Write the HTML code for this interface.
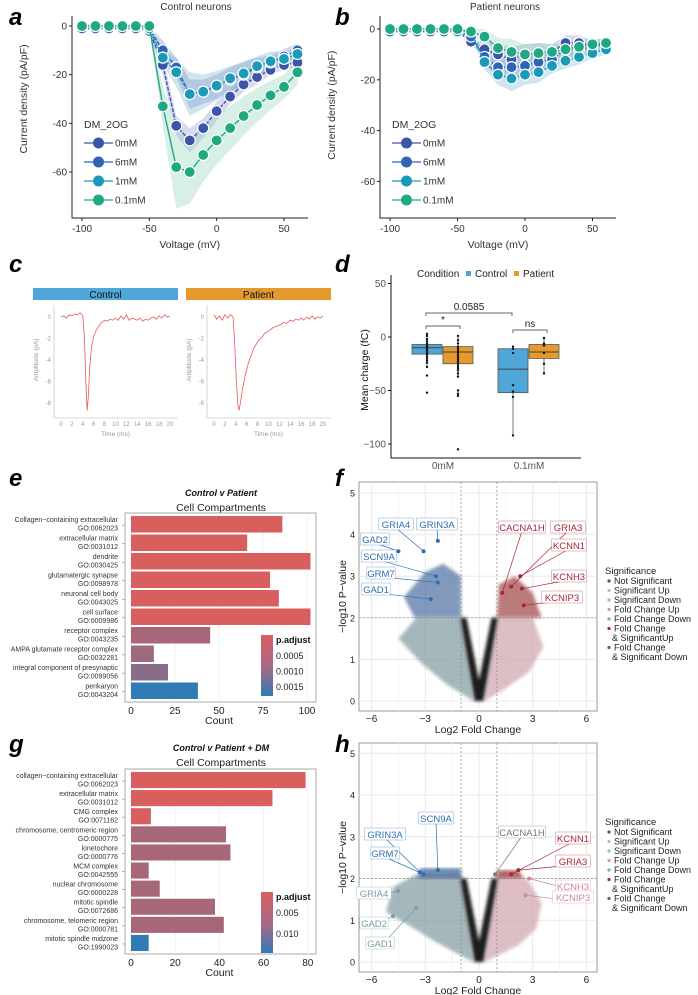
<!DOCTYPE html>
<html><head><meta charset="utf-8"><style>
html,body{margin:0;padding:0;background:#fff}
svg{display:block;font-family:"Liberation Sans",Arial,sans-serif}
</style></head><body>
<svg id="fig" width="698" height="995" viewBox="0 0 698 995" xmlns="http://www.w3.org/2000/svg">
<defs><filter id="soft" x="-10%" y="-10%" width="120%" height="120%"><feGaussianBlur stdDeviation="1.6"/></filter></defs>
<g font-weight="bold" font-style="italic" font-size="24" fill="#000">
<text x="9" y="25">a</text>
<text x="335" y="25">b</text>
<text x="9" y="272">c</text>
<text x="335" y="272">d</text>
<text x="9" y="486">e</text>
<text x="335" y="486">f</text>
<text x="9" y="752">g</text>
<text x="335" y="752">h</text>
</g>
<text x="196" y="10" font-size="10" text-anchor="middle" fill="#333">Control neurons</text>
<text x="505" y="10" font-size="10" text-anchor="middle" fill="#333">Patient neurons</text>
<g id="root"></g>
</svg>
<script>
// ---------- data: panels a/b ----------
const voltages = [-100,-90,-80,-70,-60,-50,-40,-30,-20,-10,0,10,20,30,40,50,60];
const seriesNames = ['0mM','6mM','1mM','0.1mM'];
const ctrl0mM  = [-1,-1,-1,-1,-1,-2,-16,-41,-47,-42,-35,-29,-24,-21,-18,-16,-15];
const ctrl6mM  = [-1,-1,-1,-1,-1,-1,-10,-17,-28,-27,-25,-22,-20,-17,-15,-12.5,-10];
const ctrl1mM  = [0,0,0,0,0,-1,-13,-19,-28,-27,-24.5,-21.5,-19.5,-16.5,-14.5,-13.5,-11.5];
const ctrl01mM = [0,0,0,0,0,0,-33,-58,-60,-53,-47,-42,-37,-32.5,-28.5,-25,-19];
const ctrlSd0  = [0,0,0,0,0,1,4,4,5,4,4,3,3,3,2,2,2];
const ctrlSd6  = [0,0,0,0,0,1,4,4,6,5,5,5,5,4,3,3,3];
const ctrlSd1  = [0,0,0,0,0,1,3,6,9,7,6,5,5,4,4,3,3];
const ctrlSd01 = [0,0,0,0,0,1,8,17,13,11,10,9,8,7,6,5,5];
const pat0mM  = [-1,-1,-1,-1,-1,-1,-5,-8,-10,-12,-10,-9.5,-9,-5.5,-5.5,-6.5,-5.5];
const pat6mM  = [-1,-1,-1,-1,-1,-1,-3,-11,-15,-15,-14.5,-13,-12,-8,-8,-7,-6];
const pat1mM  = [0,0,0,0,0,-1,-1,-13,-18,-19.5,-18,-17,-14.5,-12.5,-11,-9.5,-8];
const pat01mM = [0,0,0,0,0,0,-1,-3,-7.5,-9,-10,-9.5,-9,-8,-7,-6,-5.5];
const patSd   = [0,0,0,0,0,0,1,3,4,5,4,4,3,3,3,2,2];
const ivXTicks = [-100,-50,0,50];
const ivYTicks = [0,-20,-40,-60];
// ---------- data: panel c ----------
const ctrlT = [0,0.5,1,1.5,2,2.5,3,3.5,4,4.3,4.6,4.8,5.0,5.3,5.6,6,6.5,7,7.5,8,8.5,9,9.5,10,10.5,11,11.5,12,12.5,13,13.5,14,14.5,15,15.5,16,16.5,17,17.5,18,18.5,19,19.5,20];
const ctrlA = [0,0.1,-0.1,0.2,0.1,0.3,0.2,0.4,0.1,-2,-6.5,-8.7,-7.5,-4.5,-2.8,-1.8,-1.2,-0.8,-0.5,-0.3,-0.4,-0.2,-0.3,-0.1,-0.3,0.1,-0.2,0.2,-0.3,-0.1,-0.2,-0.3,-0.1,-0.4,-0.2,-0.3,-0.1,0,-0.2,0.1,-0.1,0.2,0,0.1];
const patT = [0,0.5,1,1.5,2,2.5,3,3.5,3.8,4.1,4.4,4.6,4.9,5.3,5.8,6.3,6.8,7.3,7.8,8.3,8.8,9.3,9.8,10.3,10.8,11.3,11.8,12.3,12.8,13.3,14,14.5,15,15.5,16,16.5,17,17.5,18,18.5,19,19.5,20];
const patA = [0.2,-0.2,0.1,-0.3,0.2,-0.1,0.2,0,-2.5,-6,-8.2,-8.7,-7.8,-6.5,-5.3,-4.3,-3.6,-2.9,-2.5,-2.1,-1.9,-1.5,-1.4,-1.2,-1.0,-0.9,-0.8,-0.7,-0.5,-0.6,-0.3,-0.4,-0.2,-0.3,-0.1,-0.3,0,-0.2,0.1,-0.2,0,-0.1,0.1];
const traceXTicks = [0,2,4,6,8,10,12,14,16,18,20];
const traceYTicks = [0,-2,-4,-6,-8];
// ---------- data: panel d ----------
const boxGroups = ['0mM','0.1mM'];
const boxConditions = ['Control','Patient'];
const boxQ1  = [[-16,-25],[-52,-20]];
const boxMed = [[-10,-14],[-30,-14]];
const boxQ3  = [[-7,-9],[-11,-7]];
const boxLo  = [[-28,-38],[-92,-34]];
const boxHi  = [[3,1],[-9,-1]];
const ptsCtrl0 = [3,1,-2,-4,-6,-8,-9,-10,-11,-12,-13,-14,-15,-16,-18,-20,-22,-24,-28,-36,-52];
const ptsPat0  = [1,-3,-6,-9,-11,-13,-15,-17,-19,-21,-23,-25,-27,-29,-31,-34,-37,-50,-53,-55,-105];
const ptsCtrl01 = [-9,-11,-15,-45,-51,-56,-92];
const ptsPat01  = [-1,-6,-8,-15,-25,-34];
const chargeTicks = [50,0,-50,-100];
// ---------- data: panels e/g ----------
const eTerms = ['Collagen\u2212containing extracellular','extracellular matrix','dendrite','glutamatergic synapse','neuronal cell body','cell surface','receptor complex','AMPA glutamate receptor complex','integral component of presynaptic','perikaryon'];
const eIds = ['GO:0062023','GO:0031012','GO:0030425','GO:0098978','GO:0043025','GO:0009986','GO:0043235','GO:0032281','GO:0099056','GO:0043204'];
const eCounts = [86,66,102,79,84,102,45,13,21,38];
const ePadj = [0.0001,0.0001,0.0001,0.0001,0.0001,0.0001,0.0006,0.0007,0.0009,0.0018];
const eTicks = [0,25,50,75,100];
const gTerms = ['collagen\u2212containing extracellular','extracellular matrix','CMG complex','chromosome, centromeric region','kinetochore','MCM complex','nuclear chromosome','mitotic spindle','chromosome, telomeric region','mitotic spindle midzone'];
const gIds = ['GO:0062023','GO:0031012','GO:0071162','GO:0000775','GO:0000776','GO:0042555','GO:0000228','GO:0072686','GO:0000781','GO:1990023'];
const gCounts = [79,64,9,43,45,8,13,38,42,8];
const gPadj = [0.001,0.001,0.001,0.0045,0.0045,0.0045,0.0045,0.0045,0.0045,0.013];
const gTicks = [0,20,40,60,80];
// ---------- data: panels f/h ----------
const volXTicks = [-6,-3,0,3,6];
const volYTicks = [0,1,2,3,4,5];
const fGenes = ['GRIA4','GRIN3A','GAD2','SCN9A','GRM7','GAD1','CACNA1H','GRIA3','KCNN1','KCNH3','KCNIP3'];
const fFC = [-3.1,-2.3,-4.5,-2.4,-2.3,-2.7,1.3,1.8,2.3,2.4,2.5];
const fP  = [3.6,3.85,3.6,3.0,2.85,2.45,2.6,2.75,3.0,2.7,2.3];
const hGenes = ['SCN9A','GRIN3A','GRM7','GRIA4','GAD2','GAD1','CACNA1H','KCNN1','GRIA3','KCNH3','KCNIP3'];
const hFC = [-2.3,-3.3,-3.1,-4.5,-4.8,-3.5,0.9,1.8,2.2,2.8,2.6];
const hP  = [2.2,2.15,2.1,1.7,1.1,1.3,2.1,2.1,2.2,2.0,1.6];
const sigLegend = ['Not Significant','Significant Up','Significant Down','Fold Change Up','Fold Change Down','Fold Change','& SignificantUp','Fold Change','& Significant Down'];

const NS='http://www.w3.org/2000/svg';
const root=document.getElementById('root');
function el(tag,parent,attrs){const e=document.createElementNS(NS,tag);for(const k in attrs)e.setAttribute(k,attrs[k]);parent.appendChild(e);return e;}
function txt(parent,x,y,s,attrs){const t=el('text',parent,Object.assign({x:x,y:y},attrs||{}));t.textContent=s;return t;}

// ===== panels a & b =====
const ivColors=['#3d55a8','#2e64b5','#1b9ab8','#20a883'];
const ivBand=['#8b95d0','#6f8fc8','#7fb3cf','#8fd1b6'];
function ivPanel(name,x0,slope,y0,ys,means,sds,axX,axB){
  const g=el('g',root,{});
  
  
  const X=v=>x0+(v+100)*slope, Y=c=>y0-c*ys;
  means.forEach((m,si)=>{
    let pts=[];
    for(let i=5;i<voltages.length;i++)pts.push(X(voltages[i])+','+Y(m[i]+sds[si][i]));
    for(let i=voltages.length-1;i>=5;i--)pts.push(X(voltages[i])+','+Y(m[i]-sds[si][i]));
    const p=el('polygon',g,{points:pts.join(' '),fill:ivBand[si],'fill-opacity':0.35});
    
    
  });
  means.forEach((m,si)=>{
    const d=voltages.map((v,i)=>(i?'L':'M')+X(v)+','+Y(m[i])).join('');
    const l=el('path',g,{d:d,fill:'none',stroke:ivColors[si],'stroke-width':1.4,'stroke-dasharray':si==3?'none':'4,1.5'});
    
    
    voltages.forEach((v,i)=>{
      const c=el('circle',g,{cx:X(v),cy:Y(m[i]),r:5.5,fill:ivColors[si],stroke:'#fff','stroke-width':1.2});
      
      
    });
  });
  const ax=el('path',g,{d:`M${axX},16V${axB}H${axX+236}`,fill:'none',stroke:'#222','stroke-width':1});
  
  
  ivXTicks.forEach(v=>{
    el('line',g,{x1:X(v),x2:X(v),y1:axB,y2:axB+3,stroke:'#222'});
    const t=txt(g,X(v),axB+14,String(v),{'font-size':10,'text-anchor':'middle',fill:'#333'});
    
    
  });
  ivYTicks.forEach(v=>{
    el('line',g,{x1:axX-3,x2:axX,y1:Y(v),y2:Y(v),stroke:'#222'});
    const t=txt(g,axX-5,Y(v)+3.5,String(v),{'font-size':10,'text-anchor':'end',fill:'#333'});
    
    
  });
  const xt=txt(g,X(-20),axB+30,'Voltage (mV)',{'font-size':10.5,'text-anchor':'middle',fill:'#333'});
  
  
  const yt=txt(g,0,0,'Current density (pA/pF)',{'font-size':10.5,'text-anchor':'middle',fill:'#333',transform:`translate(${axX-45},${Y(-30)}) rotate(-90)`});
  
  
  const lx=X(-100)+2;
  const lt=txt(g,lx,128,'DM_2OG',{'font-size':10.5,fill:'#333'});
  
  
  seriesNames.forEach((s,i)=>{
    const yy=143+i*19;
    el('line',g,{x1:lx,x2:lx+29,y1:yy,y2:yy,stroke:ivColors[i],'stroke-width':1.3});
    el('circle',g,{cx:lx+14.5,cy:yy,r:5.5,fill:ivColors[i]});
    const e=txt(g,lx+31,yy+3.5,s,{'font-size':10,fill:'#333'});
    
    
  });
}
ivPanel('iv-chart-control',82,1.3467,26,2.433,[ctrl0mM,ctrl6mM,ctrl1mM,ctrl01mM],[ctrlSd0,ctrlSd6,ctrlSd1,ctrlSd01],72,218);
ivPanel('iv-chart-patient',390,1.35,29,2.54,[pat0mM,pat6mM,pat1mM,pat01mM],[patSd,patSd,patSd,patSd],380,218);

// ===== panel c =====
function trace(name,label,color,x0,T,A,stripX){
  const g=el('g',root,{});
  
  
  const s=el('rect',g,{x:stripX,y:288,width:145,height:12,fill:color});
  
  
  const st=txt(g,stripX+72.5,298,label,{'font-size':10,'text-anchor':'middle',fill:'#111'});
  
  
  const X=t=>x0+t*5.45, Y=a=>317-a*10.75;
  el('path',g,{d:`M${x0-7},305V418H${x0+117}`,fill:'none',stroke:'#ccc','stroke-width':0.8});
  traceXTicks.forEach(t=>{
    const tl=txt(g,X(t),426,String(t),{'font-size':6,'text-anchor':'middle',fill:'#999'});
    
    
  });
  traceYTicks.forEach(a=>{
    const tl=txt(g,x0-10,Y(a)+2,String(a),{'font-size':6,'text-anchor':'end',fill:'#999'});
    
    
  });
  const xt=txt(g,X(10),436,'Time (ms)',{'font-size':6.5,'text-anchor':'middle',fill:'#999'});
  
  
  const yt=txt(g,0,0,'Amplitude (pA)',{'font-size':6.5,'text-anchor':'middle',fill:'#999',transform:`translate(${x0-23},360) rotate(-90)`});
  
  
  const p=el('path',g,{d:T.map((t,i)=>(i?'L':'M')+X(t)+','+Y(A[i])).join(''),fill:'none',stroke:'#e8595a','stroke-width':0.8});
  
  
}
trace('trace-control','Control','#4fa6d8',61,ctrlT,ctrlA,33);
trace('trace-patient','Patient','#e49a2c',214,patT,patA,186);

// ===== panel d =====
(function(){
  const g=el('g',root,{});
  
  
  const Y=v=>337-v*1.07, cx=[443,529], off=[-16,15], cols=['#4fa6d8','#e49a2c'];
  const pts=[[ptsCtrl0,ptsPat0],[ptsCtrl01,ptsPat01]];
  boxGroups.forEach((grp,gi)=>boxConditions.forEach((c,ci)=>{
    const x=cx[gi]+off[ci];
    el('line',g,{x1:x,x2:x,y1:Y(boxHi[gi][ci]),y2:Y(boxLo[gi][ci]),stroke:'#555','stroke-width':0.8});
    const b=el('rect',g,{x:x-15,y:Y(boxQ3[gi][ci]),width:30,height:Y(boxQ1[gi][ci])-Y(boxQ3[gi][ci]),fill:cols[ci],stroke:'#555','stroke-width':0.8});
    
    
    el('line',g,{x1:x-15,x2:x+15,y1:Y(boxMed[gi][ci]),y2:Y(boxMed[gi][ci]),stroke:'#444','stroke-width':1});
    pts[gi][ci].forEach(v=>{
      const d=el('circle',g,{cx:x,cy:Y(v),r:1.2,fill:'#111'});
      
      
    });
  }));
  el('path',g,{d:'M391,275V458H581',fill:'none',stroke:'#111','stroke-width':1});
  chargeTicks.forEach(v=>{
    el('line',g,{x1:388,x2:391,y1:Y(v),y2:Y(v),stroke:'#111'});
    const t=txt(g,386,Y(v)+3.5,String(v).replace('-','\u2212'),{'font-size':10,'text-anchor':'end',fill:'#555'});
    
    
  });
  boxGroups.forEach((grp,gi)=>{
    const t=txt(g,cx[gi],469,grp,{'font-size':10,'text-anchor':'middle',fill:'#555'});
    
    
  });
  const yt=txt(g,0,0,'Mean charge (fC)',{'font-size':10.5,'text-anchor':'middle',fill:'#111',transform:'translate(368,370) rotate(-90)'});
  
  
  [[426,460,326,'*'],[426,512,313,'0.0585'],[513,547,330,'ns']].forEach(b=>{
    const br=el('path',g,{d:`M${b[0]},${b[2]+3}V${b[2]}H${b[1]}V${b[2]+3}`,fill:'none',stroke:'#666','stroke-width':1});
    
    
    const t=txt(g,(b[0]+b[1])/2,b[2]-3,b[3],{'font-size':10,'text-anchor':'middle',fill:'#222'});
    
    
  });
  const lt=txt(g,417,277,'Condition',{'font-size':10,fill:'#222'});
  
  
  [[466,'Control',cols[0]],[514,'Patient',cols[1]]].forEach(l=>{
    el('rect',g,{x:l[0],y:271,width:5,height:5,fill:l[2]});
    const t=txt(g,l[0]+9,277,l[1],{'font-size':10,fill:'#222'});
    
    
  });
})();

// ===== panels e & g =====
function padjColor(p,lo,hi){
  const t=Math.max(0,Math.min(1,(p-lo)/(hi-lo)));
  const a=[217,95,95], b=[46,123,182];
  return 'rgb('+a.map((v,i)=>Math.round(v+(b[i]-v)*t)).join(',')+')';
}
function goPanel(name,title,terms,ids,counts,padj,ticks,top,bottom,scale,lo,hi,cbTop,cbLabels,titleY){
  const g=el('g',root,{});
  
  
  const X=c=>131+c*scale;
  const t1=txt(g,221,titleY,title,{'font-size':9,'font-weight':'bold','font-style':'italic','text-anchor':'middle',fill:'#111'});
  
  
  const t2=txt(g,221,titleY+15,'Cell Compartments',{'font-size':10.5,'text-anchor':'middle',fill:'#222'});
  
  
  el('rect',g,{x:125,y:top,width:191,height:bottom-top,fill:'#fff',stroke:'#aaa','stroke-width':1});
  ticks.forEach(v=>el('line',g,{x1:X(v),x2:X(v),y1:top,y2:bottom,stroke:'#eee','stroke-width':0.8}));
  const pitch=(bottom-top-4)/terms.length;
  terms.forEach((tm,i)=>{
    const y=top+3+i*pitch;
    const b=el('rect',g,{x:X(0),y:y,width:counts[i]*scale,height:pitch-2,fill:padjColor(padj[i],lo,hi)});
    
    
    const l=txt(g,118,y+6,tm,{'font-size':7,'text-anchor':'end',fill:'#333'});
    
    
    const l2=txt(g,118,y+14.5,ids[i],{'font-size':7,'text-anchor':'end',fill:'#333'});
    
    
    el('line',g,{x1:122,x2:125,y1:y+pitch/2,y2:y+pitch/2,stroke:'#888','stroke-width':0.6});
  });
  ticks.forEach(v=>{
    const t=txt(g,X(v),bottom+12,String(v),{'font-size':10,'text-anchor':'middle',fill:'#222'});
    
    
  });
  const xt=txt(g,X(ticks[2]),bottom+22,'Count',{'font-size':10.5,'text-anchor':'middle',fill:'#222'});
  
  
  const gid=name+'-grad';
  const defs=el('defs',g,{});
  const lg=el('linearGradient',defs,{id:gid,x1:0,y1:0,x2:0,y2:1});
  el('stop',lg,{offset:'0','stop-color':'#d95f5f'});
  el('stop',lg,{offset:'0.55','stop-color':'#a36a8a'});
  el('stop',lg,{offset:'1','stop-color':'#2e7bb6'});
  const cb=el('rect',g,{x:261,y:cbTop,width:12,height:61,fill:`url(#${gid})`});
  
  
  const ct=txt(g,276,cbTop+8,'p.adjust',{'font-size':9,'font-weight':'bold',fill:'#111'});
  
  
  cbLabels.forEach((s,i)=>{
    const t=txt(g,276,cbTop+24+i*(cbLabels.length==3?15.5:21),s,{'font-size':9,fill:'#222'});
    
    
  });
}
goPanel('go-bar-chart-e','Control v Patient',eTerms,eIds,eCounts,ePadj,eTicks,513,702,1.76,0.0001,0.0018,635,['0.0005','0.0010','0.0015'],496);
goPanel('go-bar-chart-g','Control v Patient + DM',gTerms,gIds,gCounts,gPadj,gTicks,769,954,2.21,0.001,0.013,892,['0.005','0.010'],751);

// ===== panels f & h =====
function volcano(name,top,bottom,y0,ys,genes,fc,pv,labelPos,labelCols,legY,isH){
  const g=el('g',root,{});
  
  
  const X=v=>479+v*17.9, Y=p=>y0-p*ys;
  el('rect',g,{x:359,y:top,width:238,height:bottom-top,fill:'#fff',stroke:'#999','stroke-width':1});
  [-4.5,-1.5,1.5,4.5].forEach(v=>el('line',g,{x1:X(v),x2:X(v),y1:top,y2:bottom,stroke:'#f3f3f3'}));
  volXTicks.forEach(v=>el('line',g,{x1:X(v),x2:X(v),y1:top,y2:bottom,stroke:'#e8e8e8'}));
  volYTicks.forEach(v=>{if(Y(v)>top)el('line',g,{x1:359,x2:597,y1:Y(v),y2:Y(v),stroke:'#e8e8e8'});});
  const C=pts=>pts.map(p=>X(p[0])+','+Y(p[1])).join(' ');
  const shapes = isH ? [
    ['wing-down','#7d989e',0.7,[[-1,2.1],[-3.5,2.1],[-4.8,1.8],[-5.2,1.2],[-4,0.9],[-2.5,0.5],[-1.2,0.2],[-0.3,0]]],
    ['wing-up','#cfa3ab',0.7,[[1,2.05],[2.7,2.0],[3.5,1.4],[3.2,0.8],[2.2,0.4],[1,0.15],[0.3,0]]],
    ['sig-down','#4d6ea0',0.8,[[-1,2.0],[-1,2.25],[-3.3,2.25],[-3.4,2.0]]],
    ['sig-up','#a04545',0.8,[[1,2.0],[1,2.2],[2.2,2.2],[2.5,2.0]]]
  ] : [
    ['wing-down','#7d989e',0.7,[[-1,2.0],[-3.5,2.0],[-4.5,1.5],[-3.2,0.9],[-1.8,0.4],[-0.3,0]]],
    ['wing-up','#cfa3ab',0.7,[[1,2.0],[3,2.0],[3.6,1.3],[2.8,0.7],[1.3,0.25],[0.3,0]]],
    ['sig-down','#4d6ea0',0.7,[[-1,2.0],[-1,3.0],[-2,3.3],[-3,3.1],[-4.2,2.5],[-3.6,2.0]]],
    ['sig-up','#a04545',0.7,[[1,2.0],[1.1,2.8],[2,3.0],[3,2.6],[3.5,2.0]]]
  ];
  shapes.forEach(s=>{
    const p=el('polygon',g,{points:C(s[3]),fill:s[1],'fill-opacity':s[2],filter:'url(#soft)'});
    
    
  });
  const core=el('path',g,{d:`M${X(-1.05)},${Y(2)}L${X(-0.25)},${Y(0)}H${X(0.25)}L${X(1.05)},${Y(2)}L${X(0.7)},${Y(2)}L${X(0)},${Y(0.5)}L${X(-0.7)},${Y(2)}Z`,fill:'#1c1c1c',filter:'url(#soft)'});
  
  
  el('line',g,{x1:X(-1),x2:X(-1),y1:top,y2:bottom,stroke:'#888','stroke-dasharray':'2,2','stroke-width':0.7});
  el('line',g,{x1:X(1),x2:X(1),y1:top,y2:bottom,stroke:'#888','stroke-dasharray':'2,2','stroke-width':0.7});
  el('line',g,{x1:359,x2:597,y1:Y(2),y2:Y(2),stroke:'#888','stroke-dasharray':'2,2','stroke-width':0.7});
  genes.forEach((gn,i)=>{
    const px=X(fc[i]), py=Y(pv[i]), lp=labelPos[i], col=labelCols[i];
    const pt=el('circle',g,{cx:px,cy:py,r:2,fill:col});
    
    
    const w=gn.length*6.1+4;
    el('line',g,{x1:px,y1:py,x2:lp[0],y2:lp[1]+4,stroke:col,'stroke-width':0.7});
    el('rect',g,{x:lp[0]-w/2,y:lp[1]-6,width:w,height:12,fill:'#fff',stroke:col,'stroke-width':0.5,'stroke-opacity':0.6});
    const t=txt(g,lp[0],lp[1]+4,gn,{'font-size':9.5,'text-anchor':'middle',fill:col});
    
    
  });
  volXTicks.forEach(v=>{
    const t=txt(g,X(v),bottom+11,String(v).replace('-','\u2212'),{'font-size':10,'text-anchor':'middle',fill:'#222'});
    
    
  });
  volYTicks.forEach(v=>{
    if(Y(v)<top)return;
    const t=txt(g,355,Y(v)+3.5,String(v),{'font-size':9,'text-anchor':'end',fill:'#222'});
    
    
  });
  const xt=txt(g,478,bottom+22,'Log2 Fold Change',{'font-size':10.5,'text-anchor':'middle',fill:'#222'});
  
  
  const yt=txt(g,0,0,'\u2212log10 P\u2212value',{'font-size':10.5,'text-anchor':'middle',fill:'#222',transform:`translate(346,${(top+bottom)/2}) rotate(-90)`});
  
  
  const lt=txt(g,605,legY,'Significance',{'font-size':9.5,fill:'#222'});
  
  
  const dotCols=['#555','#bbb','#9bb','#c9a','#8a9','#933','','#468',''];
  sigLegend.forEach((s,i)=>{
    const yy=legY+10+i*9.5;
    if(dotCols[i])el('circle',g,{cx:609,cy:yy-3,r:1.6,fill:dotCols[i]});
    const t=txt(g,i==6||i==8?612:614,yy,s,{'font-size':9,fill:'#222'});
    
    
  });
}
const B='#2f6fb0', R='#a8283a', P='#cf8796', T='#7a9ea6', Gy='#777';
volcano('volcano-f',482,711,701,41.6,fGenes,fFC,fP,
  [[396,524],[437,524],[375,539],[379,556],[381,573],[376,589],[522,527],[568,527],[569,545],[569,576],[562,597]],
  [B,B,B,B,B,B,R,R,R,R,R],574,false);
volcano('volcano-h',743,972,962,41.75,hGenes,hFC,hP,
  [[436,818],[385,834],[385,853],[374,893],[374,923],[380,943],[522,832],[573,838],[573,861],[573,886],[573,897]],
  [B,B,B,T,T,T,Gy,R,R,P,P],825,true);
</script>
</body></html>
